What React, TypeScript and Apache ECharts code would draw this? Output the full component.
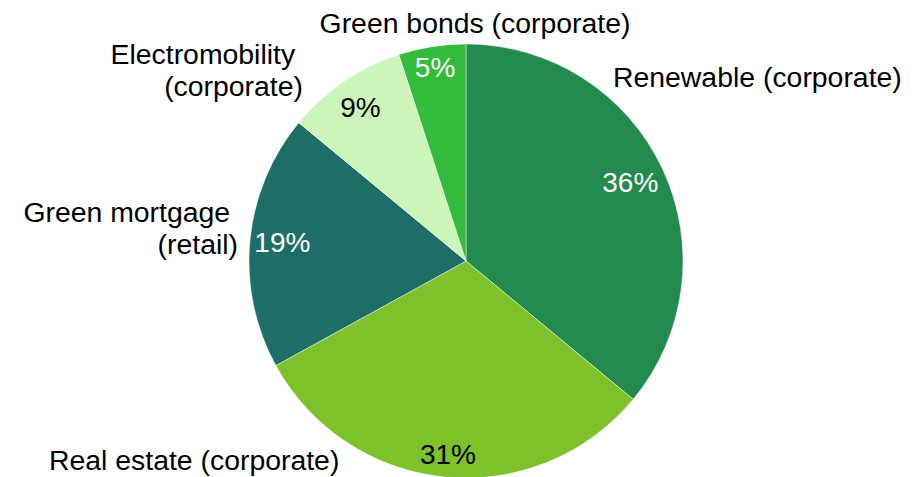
import React, { useEffect, useRef } from "react";
import * as echarts from "echarts";

const categories = [
  "Renewable (corporate)",
  "Real estate (corporate)",
  "Green mortgage \n(retail)",
  "Electromobility \n(corporate)",
  "Green bonds (corporate)",
];
const shares = [36, 31, 19, 9, 5];
const sliceColors = ["#238B4E", "#7DC12B", "#1E6E68", "#CCF5B9", "#33BB3A"];
const percentColors = ["#ffffff", "#000000", "#ffffff", "#000000", "#ffffff"];

// label anchor placement for the category names (x, y, align)
const namePlacement: [number, number, string][] = [
  [613, 77, "left"],
  [49, 460, "left"],
  [238, 228, "right"],
  [303, 70, "right"],
  [475, 23, "center"],
];
// small nudges of the percentage labels from their in-slice anchor
const percentNudge: [number, number][] = [
  [-9, 3],
  [0, 3],
  [7, 0],
  [2, 5],
  [-1, -4],
];

const FONT = "'Liberation Sans', Arial, Helvetica, sans-serif";

export default function App() {
  const ref = useRef<HTMLDivElement>(null);
  useEffect(() => {
    if (!ref.current) return;
    const chart = echarts.init(ref.current, undefined, { renderer: "svg" });
    const cx = 466;
    const cy = 261;
    const R = 217;
    chart.setOption({
      animation: false,
      backgroundColor: "#ffffff",
      series: [
        {
          type: "pie",
          center: [cx, cy],
          radius: [0, R],
          startAngle: 90,
          clockwise: true,
          silent: true,
          itemStyle: { borderColor: "rgba(255,255,255,0.45)", borderWidth: 1 },
          label: {
            show: true,
            position: "outside",
            formatter: "{b}",
            fontFamily: FONT,
            fontSize: 28.4,
            lineHeight: 32,
            color: "#000",
            overflow: "none",
            edgeDistance: 0,
            bleedMargin: 0,
          },
          labelLine: { show: false },
          labelLayout: (p: any) => {
            const pl = namePlacement[p.dataIndex];
            return { x: pl[0], y: pl[1], align: pl[2], verticalAlign: "middle" };
          },
          data: categories.map((c, i) => ({
            name: c,
            value: shares[i],
            itemStyle: { color: sliceColors[i] },
          })),
        },
        {
          type: "pie",
          center: [cx, cy],
          radius: [160, R],
          startAngle: 90,
          clockwise: true,
          silent: true,
          itemStyle: { color: "rgba(0,0,0,0)" },
          label: {
            show: true,
            position: "inside",
            formatter: "{c}%",
            fontFamily: FONT,
            fontSize: 28,
          },
          labelLine: { show: false },
          labelLayout: (p: any) => {
            const n = percentNudge[p.dataIndex];
            return { dx: n[0], dy: n[1] };
          },
          data: categories.map((c, i) => ({
            name: c,
            value: shares[i],
            label: { color: percentColors[i] },
          })),
        },
      ],
    });
    return () => chart.dispose();
  }, []);
  return (
    <div
      ref={ref}
      style={{ position: "fixed", left: 0, top: 0, width: 921, height: 477 }}
    />
  );
}
